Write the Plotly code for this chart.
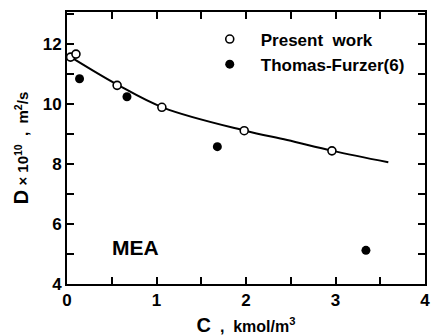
import plotly.graph_objects as go

# Data
present_c = [0.04, 0.10, 0.56, 1.06, 1.98, 2.96]
present_d = [11.55, 11.65, 10.61, 9.88, 9.10, 8.43]

thomas_c = [0.14, 0.67, 1.68, 3.34]
thomas_d = [10.83, 10.23, 8.57, 5.12]

curve_c = [0.07, 0.57, 1.08, 1.99, 2.46, 2.97, 3.59]
curve_d = [11.50, 10.62, 9.86, 9.10, 8.79, 8.43, 8.05]

x_tickvals = [0, 0.5, 1, 1.5, 2, 2.5, 3, 3.5, 4]
x_ticktext = ["0", "", "1", "", "2", "", "3", "", "4"]
y_tickvals = [4, 5, 6, 7, 8, 9, 10, 11, 12, 13]
y_ticktext = ["4", "", "6", "", "8", "", "10", "", "12", ""]

FONT = "Liberation Sans"

fig = go.Figure()
fig.add_trace(go.Scatter(x=curve_c, y=curve_d, mode="lines", line=dict(color="black", width=2, shape="spline"),
                         showlegend=False, hoverinfo="skip"))
fig.add_trace(go.Scatter(x=present_c, y=present_d, mode="markers", name="Present  work",
                         marker=dict(symbol="circle", size=8, color="white", line=dict(color="black", width=1.6))))
fig.add_trace(go.Scatter(x=thomas_c, y=thomas_d, mode="markers", name="Thomas-Furzer(6)",
                         marker=dict(symbol="circle", size=9, color="black", line=dict(color="black", width=0))))

fig.add_annotation(x=0.77, y=5.2, text="MEA", showarrow=False, xref="x", yref="y",
                   font=dict(family=FONT, size=21, color="black", weight="bold"))

axis_common = dict(showline=True, linecolor="black", linewidth=2, mirror="ticks", ticks="inside",
                   ticklen=7, tickwidth=1.5, tickcolor="black", showgrid=False, zeroline=False,
                   ticklabeloverflow="allow",
                   tickfont=dict(family=FONT, size=17, color="black", weight="bold"))

fig.update_xaxes(range=[0, 4], tickmode="array", tickvals=x_tickvals, ticktext=x_ticktext,
                 title=dict(text="<span style='font-size:20px'>C</span>  ,  kmol/m<sup>3</sup>",
                            font=dict(family=FONT, size=16, color="black", weight="bold"), standoff=12),
                 **axis_common)
fig.update_yaxes(range=[4, 13.05], tickmode="array", tickvals=y_tickvals, ticktext=y_ticktext,
                 title=dict(text="<span style='font-size:20px'>D</span> × 10<sup>10</sup>  ,  m<sup>2</sup>/s",
                            font=dict(family=FONT, size=15, color="black", weight="bold"), standoff=10),
                 **axis_common)

fig.update_layout(width=433, height=336, margin=dict(l=66.5, r=2.5, t=12, b=51.5),
                  plot_bgcolor="white", paper_bgcolor="white",
                  legend=dict(x=0.368, y=0.965, xanchor="left", yanchor="top", bgcolor="rgba(0,0,0,0)",
                              font=dict(family=FONT, size=17, color="black", weight="bold"),
                              tracegroupgap=0, itemwidth=52))

fig.write_html("out.html")
